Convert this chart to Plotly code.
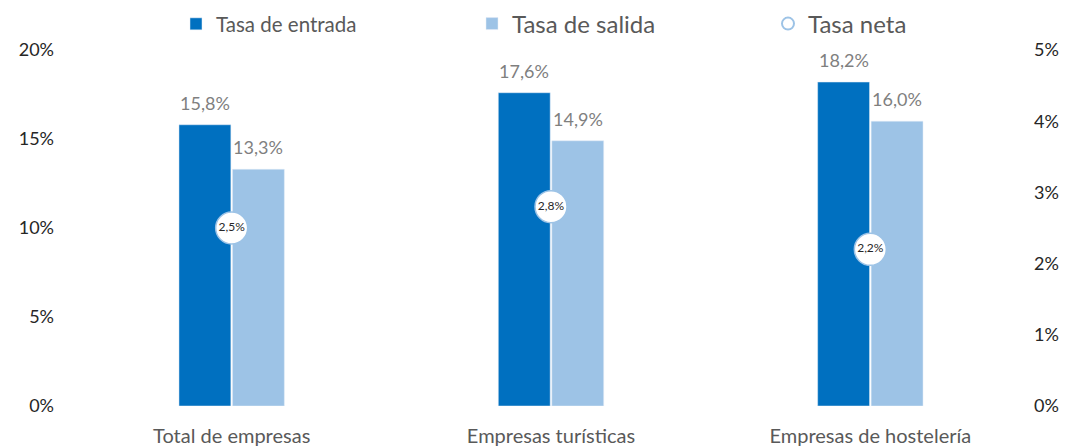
import plotly.graph_objects as go

categories = ["Total de empresas", "Empresas turísticas", "Empresas de hostelería"]
tasa_entrada = [15.8, 17.6, 18.2]
tasa_salida = [13.3, 14.9, 16.0]
tasa_neta = [2.5, 2.8, 2.2]
left_ticks = [0, 5, 10, 15, 20]
right_ticks = [0, 1, 2, 3, 4, 5]

FONT = "Lato, Noto Sans, sans-serif"
DARK = "#0070C0"
LIGHT = "#9DC3E6"
GREY = "#7F7F7F"

W, H = 1082, 446
ML, MR, MT, MB = 72, 52, 50, 40
BARGAP = 0.665
plot_w = W - ML - MR
slot = plot_w / len(categories) * (1 - BARGAP) / 2
half = slot / 2

fig = go.Figure()
fig.add_trace(go.Bar(
    x=categories, y=tasa_entrada, name="Tasa de entrada",
    marker=dict(color=DARK), legend="legend", yaxis="y",
))
fig.add_trace(go.Bar(
    x=categories, y=tasa_salida, name="Tasa de salida",
    marker=dict(color=LIGHT), legend="legend2", yaxis="y",
))
fig.add_trace(go.Scatter(
    x=categories, y=tasa_neta, name="Tasa neta", mode="markers+text",
    marker=dict(size=32, color="white", line=dict(color=LIGHT, width=1.5)),
    texttemplate="%{y:.1f}%", textposition="middle center",
    textfont=dict(size=12, color="#262626", family=FONT),
    cliponaxis=False, legend="legend3", yaxis="y2",
))

annotations = []
for vals, sh in ((tasa_entrada, -half), (tasa_salida, half)):
    for c, v in zip(categories, vals):
        annotations.append(dict(
            x=c, y=v, xref="x", yref="y", text=f"{v:.1f}%".replace(".", ","),
            showarrow=False, xshift=sh, yshift=22,
            font=dict(size=18, color=GREY, family=FONT),
        ))

legend_common = dict(orientation="h", yref="paper", y=1 + 26 / (H - MT - MB), yanchor="middle",
                     xanchor="left", bgcolor="rgba(0,0,0,0)")

fig.update_layout(
    width=W, height=H,
    margin=dict(l=ML, r=MR, t=MT, b=MB, autoexpand=False),
    paper_bgcolor="white", plot_bgcolor="white",
    separators=",.",
    barmode="group", bargap=BARGAP, bargroupgap=0.03,
    font=dict(family=FONT, color="#404040"),
    showlegend=True,
    annotations=annotations,
    legend=dict(x=(176 - ML) / plot_w, font=dict(size=20.5, color="#595959", family=FONT), **legend_common),
    legend2=dict(x=(472 - ML) / plot_w, font=dict(size=24, color="#595959", family=FONT), **legend_common),
    legend3=dict(x=(768 - ML) / plot_w, font=dict(size=24, color="#595959", family=FONT),
                 itemsizing="constant", **legend_common),
    xaxis=dict(showgrid=False, showline=False, ticks="", tickfont=dict(size=20, color="#595959"),
               ticklabelstandoff=16),
    yaxis=dict(range=[0, 20], tickvals=left_ticks, ticktext=[f"{v}%" for v in left_ticks],
               showgrid=False, zeroline=False, showline=False, ticks="",
               tickfont=dict(size=18, color="#262626"), ticklabelstandoff=17),
    yaxis2=dict(range=[0, 5], tickvals=right_ticks, ticktext=[f"{v}%" for v in right_ticks],
                overlaying="y", side="right", showgrid=False, zeroline=False, showline=False,
                ticks="", tickfont=dict(size=18, color="#262626"), ticklabelstandoff=3),
)

fig.write_html("out.html", config={"displayModeBar": False},
               post_script="document.body.style.margin='0';document.body.style.overflow='hidden';")
